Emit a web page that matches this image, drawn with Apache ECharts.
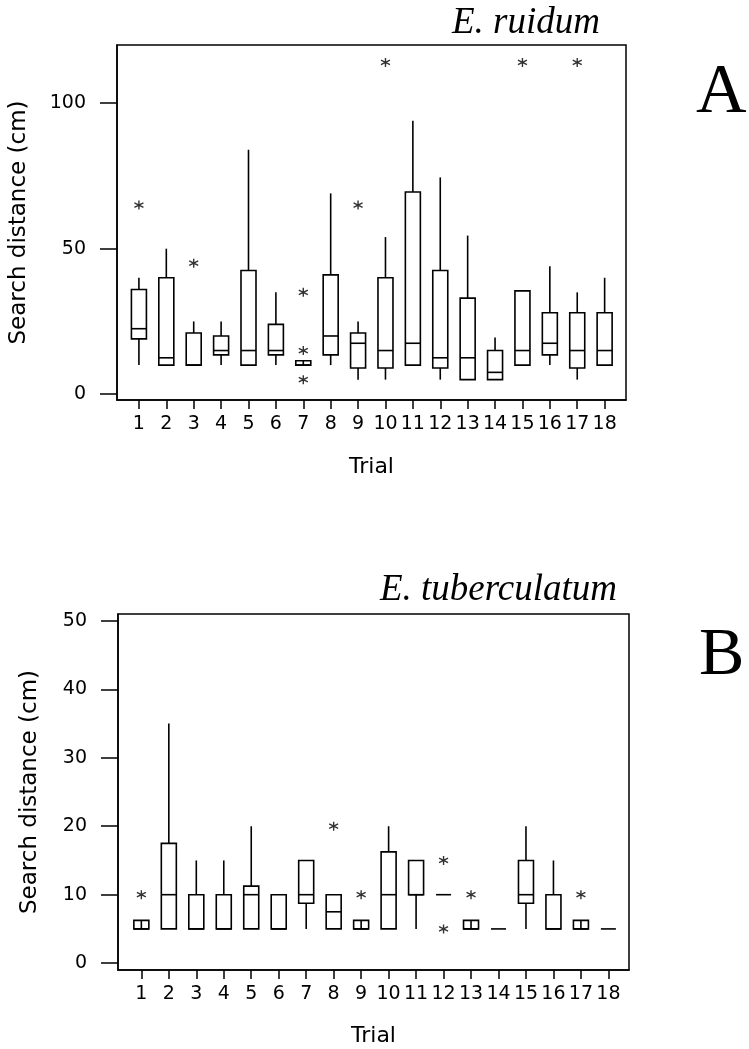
<!DOCTYPE html>
<html>
<head>
<meta charset="utf-8">
<script src="https://cdn.jsdelivr.net/npm/echarts@6/dist/echarts.min.js"></script>
<style>
html,body{margin:0;padding:0;background:#fff;}
#chart{width:749px;height:1049px;}
</style>
</head>
<body>
<div id="chart"></div>
<script>
// ---- data ----
const trials = [1,2,3,4,5,6,7,8,9,10,11,12,13,14,15,16,17,18];
const yTicksA = [0, 50, 100];
const yTicksB = [0, 10, 20, 30, 40, 50];
// [min, q1, median, q3, max] per trial
const boxesA = [
  [10, 19, 22.5, 36, 40],
  [10, 10, 12.5, 40, 50],
  [10, 10, 10, 21, 25],
  [10, 13.5, 15, 20, 25],
  [10, 10, 15, 42.5, 84],
  [10, 13.5, 15, 24, 35],
  [10, 10, 10, 11.5, 11.5],
  [10, 13.5, 20, 41, 69],
  [5, 9, 17.5, 21, 25],
  [5, 9, 15, 40, 54],
  [10, 10, 17.5, 69.5, 94],
  [5, 9, 12.5, 42.5, 74.5],
  [5, 5, 12.5, 33, 54.5],
  [5, 5, 7.5, 15, 19.5],
  [10, 10, 15, 35.5, 35.5],
  [10, 13.5, 17.5, 28, 44],
  [5, 9, 15, 28, 35],
  [10, 10, 15, 28, 40]
];
const outliersA = [[1,65],[3,45],[7,35],[7,15],[7,5],[9,65],[10,114],[15,114],[17,114]];
const boxesB = [
  [5, 5, 5, 6.25, 6.25],
  [5, 5, 10, 17.5, 35],
  [5, 5, 5, 10, 15],
  [5, 5, 5, 10, 15],
  [5, 5, 10, 11.25, 20],
  [5, 5, 5, 10, 10],
  [5, 8.75, 10, 15, 15],
  [5, 5, 7.5, 10, 10],
  [5, 5, 5, 6.25, 6.25],
  [5, 5, 10, 16.25, 20],
  [5, 10, 10, 15, 15],
  [10, 10, 10, 10, 10],
  [5, 5, 5, 6.25, 6.25],
  [5, 5, 5, 5, 5],
  [5, 8.75, 10, 15, 20],
  [5, 5, 5, 10, 15],
  [5, 5, 5, 6.25, 6.25],
  [5, 5, 5, 5, 5]
];
const outliersB = [[1,10],[8,20],[9,10],[12,15],[12,5],[13,10],[17,10]];

// ---- rendering ----
const FONT = 'DejaVu Sans';
const rowsA = trials.map((t, i) => [t].concat(boxesA[i]));
const rowsB = trials.map((t, i) => [t].concat(boxesB[i]));

function renderBox(params, api) {
  const x = api.value(0);
  const mn = api.value(1), q1 = api.value(2), md = api.value(3), q3 = api.value(4), mx = api.value(5);
  const pMax = api.coord([x, mx]), pQ3 = api.coord([x, q3]), pMd = api.coord([x, md]),
        pQ1 = api.coord([x, q1]), pMin = api.coord([x, mn]);
  const cx = pQ3[0], hw = 7.5;
  const st = {stroke: '#000', fill: 'none', lineWidth: 1.6};
  const ch = [];
  if (mx > q3) ch.push({type: 'line', shape: {x1: cx, y1: pMax[1], x2: cx, y2: pQ3[1]}, style: st});
  if (mn < q1) ch.push({type: 'line', shape: {x1: cx, y1: pQ1[1], x2: cx, y2: pMin[1]}, style: st});
  const h = pQ1[1] - pQ3[1];
  if (h < 0.5) {
    ch.push({type: 'line', shape: {x1: cx - hw, y1: pQ3[1], x2: cx + hw, y2: pQ3[1]}, style: st});
  } else {
    ch.push({type: 'rect', shape: {x: cx - hw, y: pQ3[1], width: 2 * hw, height: h}, style: {stroke: '#000', fill: '#fff', lineWidth: 1.6}});
    ch.push({type: 'line', shape: {x1: cx - hw, y1: pMd[1], x2: cx + hw, y2: pMd[1]}, style: st});
    if (h < 12) ch.push({type: 'line', shape: {x1: cx, y1: pQ3[1], x2: cx, y2: pQ1[1]}, style: st});
  }
  return {type: 'group', children: ch};
}

const star = 'path://M5,0L5,10M0.7,2.5L9.3,7.5M0.7,7.5L9.3,2.5';

function xAxisCfg(gi, min, max, nameGap) {
  return {
    gridIndex: gi, type: 'value', min: min, max: max,
    axisLine: {onZero: false, lineStyle: {color: '#000', width: 1.5}},
    axisTick: {customValues: trials, length: 9, lineStyle: {color: '#000', width: 1.5}},
    axisLabel: {customValues: trials, margin: 15, color: '#000', fontSize: 19, fontFamily: FONT},
    splitLine: {show: false},
    name: 'Trial', nameLocation: 'middle', nameGap: nameGap,
    nameTextStyle: {color: '#000', fontSize: 22, fontFamily: FONT}
  };
}
function yAxisCfg(gi, min, max, ticks, nameGap) {
  return {
    gridIndex: gi, type: 'value', min: min, max: max,
    axisLine: {onZero: false, lineStyle: {color: '#000', width: 1.5}},
    axisTick: {customValues: ticks, length: 17, lineStyle: {color: '#000', width: 1.5}},
    axisLabel: {customValues: ticks, margin: 31, color: '#000', fontSize: 19, fontFamily: FONT},
    splitLine: {show: false},
    name: 'Search distance (cm)', nameLocation: 'middle', nameRotate: 90, nameGap: nameGap,
    nameTextStyle: {color: '#000', fontSize: 23, fontFamily: FONT}
  };
}

const chart = echarts.init(document.getElementById('chart'), null, {renderer: 'canvas'});
chart.setOption({
  backgroundColor: '#fff',
  animation: false,
  grid: [
    {left: 115, top: 45, right: 123, bottom: 649, show: true, borderColor: '#000', borderWidth: 1.5, backgroundColor: '#fff'},
    {left: 118, top: 614, right: 120, bottom: 79, show: true, borderColor: '#000', borderWidth: 1.5, backgroundColor: '#fff'}
  ],
  xAxis: [xAxisCfg(0, 0.2, 18.78, 56), xAxisCfg(1, 0.15, 18.75, 55)],
  yAxis: [yAxisCfg(0, -2, 120, yTicksA, 86), yAxisCfg(1, -1, 51, yTicksB, 76)],
  graphic: [
    {type: 'text', right: 149, top: 5, style: {text: 'E. ruidum', font: 'italic 37px "Liberation Serif"', fill: '#000'}},
    {type: 'text', right: 132, top: 572, style: {text: 'E. tuberculatum', font: 'italic 37px "Liberation Serif"', fill: '#000'}},
    {type: 'text', left: 696, top: 59, style: {text: 'A', font: '70px "Liberation Serif"', fill: '#000'}},
    {type: 'text', left: 699, top: 622, style: {text: 'B', font: '68px "Liberation Serif"', fill: '#000'}}
  ],
  series: [
    {type: 'custom', xAxisIndex: 0, yAxisIndex: 0, data: rowsA, renderItem: renderBox, encode: {x: 0, y: [1,2,3,4,5]}},
    {type: 'custom', xAxisIndex: 1, yAxisIndex: 1, data: rowsB, renderItem: renderBox, encode: {x: 0, y: [1,2,3,4,5]}},
    {type: 'scatter', xAxisIndex: 0, yAxisIndex: 0, data: outliersA, symbol: star, symbolSize: 9,
     itemStyle: {color: '#000', borderColor: '#000', borderWidth: 1.4}},
    {type: 'scatter', xAxisIndex: 1, yAxisIndex: 1, data: outliersB, symbol: star, symbolSize: 9,
     itemStyle: {color: '#000', borderColor: '#000', borderWidth: 1.4}}
  ]
});
</script>
</body>
</html>
